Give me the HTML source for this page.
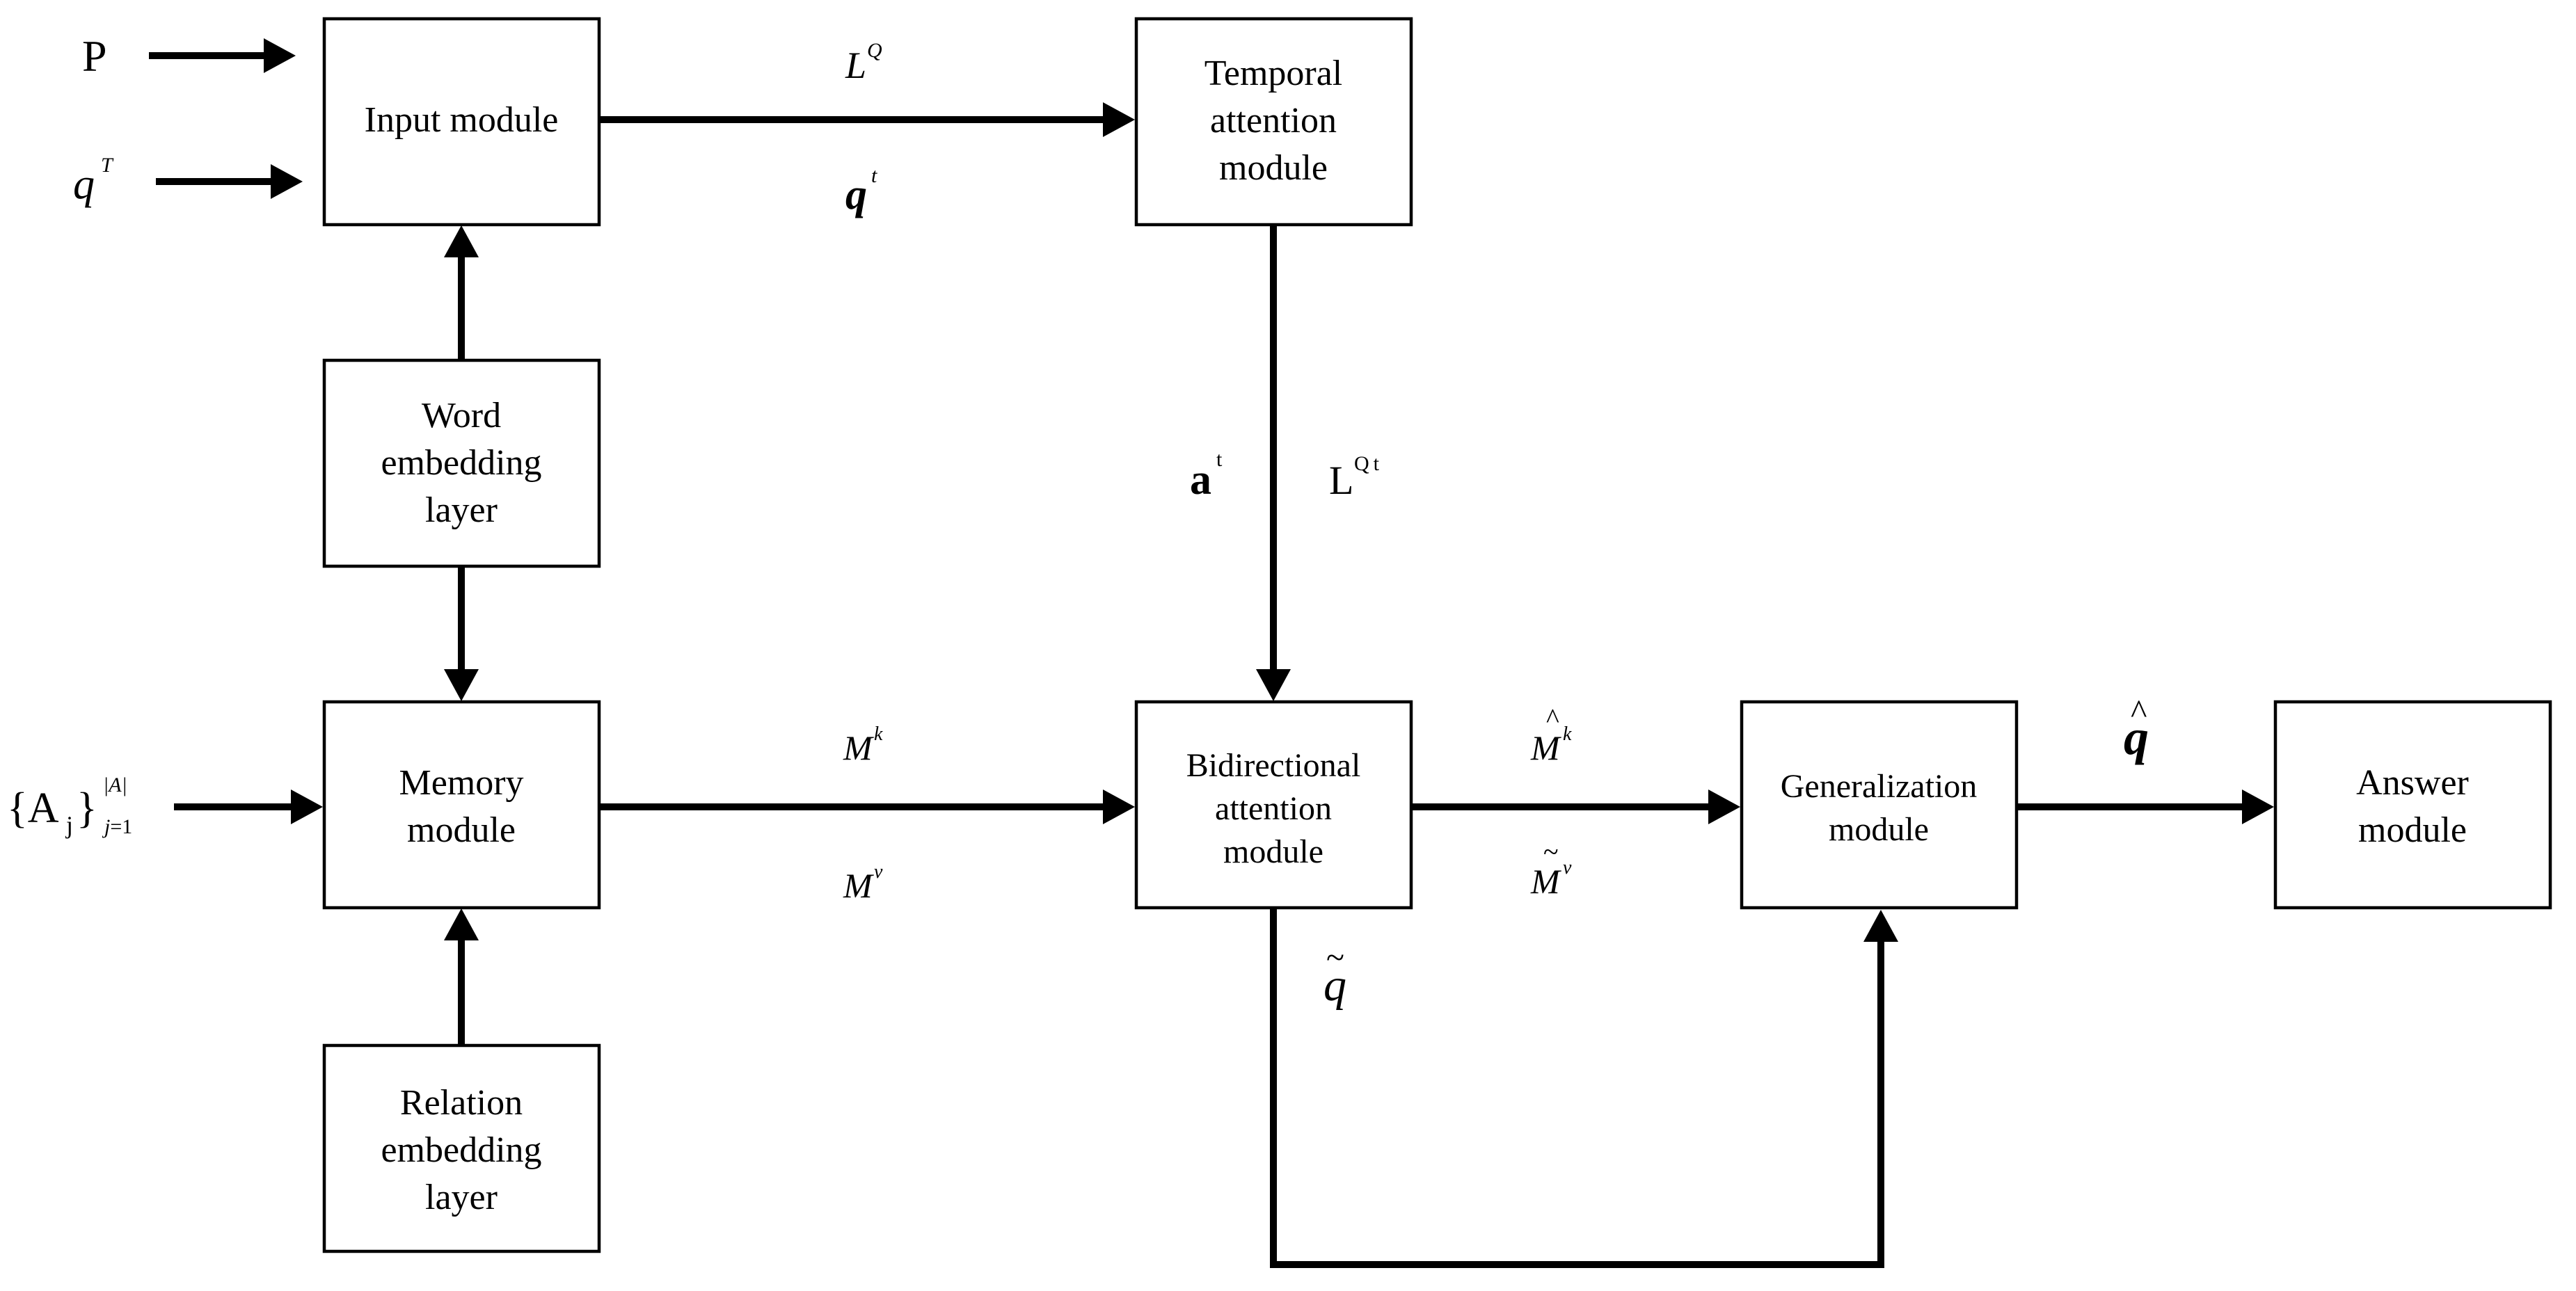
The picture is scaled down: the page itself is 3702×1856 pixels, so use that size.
<!DOCTYPE html>
<html><head><meta charset="utf-8"><style>
html,body{margin:0;padding:0;background:#fff;}
svg{display:block;}
text{font-family:"Liberation Serif",serif;fill:#000;}
</style></head><body>
<svg width="3702" height="1856" viewBox="0 0 3702 1856" xmlns="http://www.w3.org/2000/svg">
<defs>
<marker id="ah" markerUnits="userSpaceOnUse" markerWidth="50" markerHeight="50" refX="16" refY="25" orient="auto">
<path d="M0,0 L46,25 L0,50 Z" fill="#000"/>
</marker>
</defs>
<g fill="none" stroke="#000" stroke-width="4.5">
<rect x="466" y="27" width="395" height="296"/>
<rect x="1633" y="27" width="395" height="296"/>
<rect x="466" y="518" width="395" height="296"/>
<rect x="466" y="1009" width="395" height="296"/>
<rect x="466" y="1503" width="395" height="296"/>
<rect x="1633" y="1009" width="395" height="296"/>
<rect x="2503" y="1009" width="395" height="296"/>
<rect x="3270" y="1009" width="395" height="296"/>
</g>
<g stroke="#000" stroke-width="10" fill="none" stroke-linecap="butt" stroke-linejoin="miter">
<line x1="214" y1="80" x2="395" y2="80" marker-end="url(#ah)"/>
<line x1="224" y1="261" x2="405" y2="261" marker-end="url(#ah)"/>
<line x1="861" y1="172" x2="1601" y2="172" marker-end="url(#ah)"/>
<line x1="663" y1="518" x2="663" y2="354" marker-end="url(#ah)"/>
<line x1="663" y1="814" x2="663" y2="978" marker-end="url(#ah)"/>
<line x1="663" y1="1503" x2="663" y2="1336" marker-end="url(#ah)"/>
<line x1="250" y1="1160" x2="434" y2="1160" marker-end="url(#ah)"/>
<line x1="861" y1="1160" x2="1601" y2="1160" marker-end="url(#ah)"/>
<line x1="1830" y1="323" x2="1830" y2="978" marker-end="url(#ah)"/>
<line x1="2028" y1="1160" x2="2471" y2="1160" marker-end="url(#ah)"/>
<line x1="2898" y1="1160" x2="3238" y2="1160" marker-end="url(#ah)"/>
<polyline points="1830,1305 1830,1818 2703,1818 2703,1338" marker-end="url(#ah)"/>
</g>
<g font-size="52" text-anchor="middle">
<text x="663" y="189">Input module</text>
<text x="1830" y="122">Temporal</text>
<text x="1830" y="190">attention</text>
<text x="1830" y="258">module</text>
<text x="663" y="614">Word</text>
<text x="663" y="682">embedding</text>
<text x="663" y="750">layer</text>
<text x="663" y="1142">Memory</text>
<text x="663" y="1210">module</text>
<text x="663" y="1602">Relation</text>
<text x="663" y="1670">embedding</text>
<text x="663" y="1738">layer</text>
<text x="1830" y="1116" font-size="48">Bidirectional</text>
<text x="1830" y="1178" font-size="48">attention</text>
<text x="1830" y="1240" font-size="48">module</text>
<text x="2700" y="1146" font-size="48">Generalization</text>
<text x="2700" y="1208" font-size="48">module</text>
<text x="3467" y="1142">Answer</text>
<text x="3467" y="1210">module</text>
</g>
<text x="118" y="102" font-size="64">P</text>
<text x="105" y="285" font-size="62" font-style="italic">q</text>
<text x="145" y="247" font-size="30" font-style="italic">T</text>
<text x="1215" y="112" font-size="54" font-style="italic">L</text>
<text x="1246" y="82" font-size="30" font-style="italic">Q</text>
<text x="1215" y="300" font-size="62" font-style="italic" font-weight="bold">q</text>
<text x="1252" y="262" font-size="30" font-style="italic">t</text>
<text x="1710" y="710" font-size="62" font-weight="bold">a</text>
<text x="1748" y="670" font-size="30">t</text>
<text x="1910" y="710" font-size="58">L</text>
<text x="1946" y="676" font-size="30" letter-spacing="6">Qt</text>
<text x="1212" y="1092" font-size="50" font-style="italic">M</text>
<text x="1256" y="1064" font-size="28" font-style="italic">k</text>
<text x="1212" y="1290" font-size="50" font-style="italic">M</text>
<text x="1256" y="1262" font-size="28" font-style="italic">v</text>
<text x="2200" y="1092" font-size="50" font-style="italic">M</text>
<text x="2222" y="1046" font-size="40">^</text>
<text x="2246" y="1064" font-size="28" font-style="italic">k</text>
<text x="2200" y="1284" font-size="50" font-style="italic">M</text>
<text x="2218" y="1238" font-size="40">~</text>
<text x="2246" y="1256" font-size="28" font-style="italic">v</text>
<text x="1902" y="1438" font-size="66" font-style="italic">q</text>
<text x="1906" y="1392" font-size="48">~</text>
<text x="3052" y="1084" font-size="72" font-style="italic" font-weight="bold">q</text>
<text x="3062" y="1040" font-size="50">^</text>
<text x="10" y="1182" font-size="62">{A</text>
<text x="95" y="1198" font-size="36">j</text>
<text x="110" y="1182" font-size="62">}</text>
<text x="148" y="1138" font-size="30" font-style="italic">|A|</text>
<text x="150" y="1198" font-size="30"><tspan font-style="italic">j</tspan>=1</text>
</svg>
</body></html>
